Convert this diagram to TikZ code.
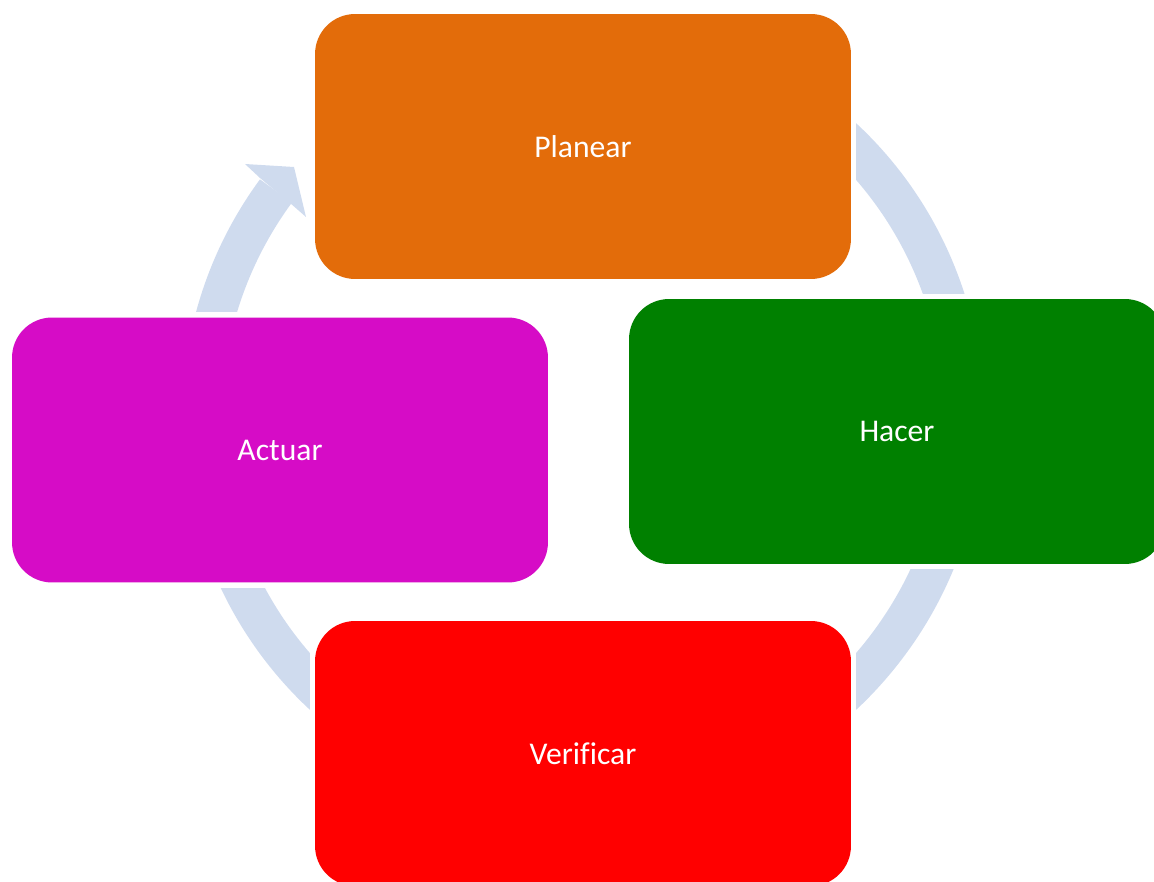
\documentclass[tikz,border=0pt]{standalone}
\usepackage{fontspec}
\setmainfont[Ligatures=NoCommon]{Carlito}
\usetikzlibrary{backgrounds}
\definecolor{ringblue}{RGB}{207,219,238}
\definecolor{planorange}{RGB}{227,108,10}
\definecolor{dogreen}{RGB}{0,128,0}
\definecolor{checkred}{RGB}{255,0,0}
\definecolor{actmagenta}{RGB}{214,12,198}

\begin{document}
\begin{tikzpicture}[
    x=0.02cm, y=0.02cm,
    box/.style={rounded corners=0.8cm, minimum width=10.72cm, minimum height=5.3cm,
                inner sep=0pt, text=white, font=\fontsize{18}{22}\selectfont},
    ring/.style={draw=ringblue, line width=0.79cm},
  ]
  \clip (0,0) rectangle (1154,-882);
  \node[box, fill=planorange] (plan) at (583,-146.5) {Planear};
  \node[box, fill=dogreen] (hacer) at (897,-431.5) {Hacer};
  \node[box, fill=checkred] (verif) at (583,-753.5) {Verificar};
  \node[box, fill=actmagenta] (actuar) at (280,-450) {Actuar};
  % cycle arrow behind the boxes
  \begin{scope}[on background layer]
    \coordinate (ctr) at (583,-416.5);
    \draw[ring] (ctr) ++(143.7:381) arc[start angle=143.7, end angle=460, radius=381];
    \fill[ringblue] (260,-178) -- (245,-164) -- (294,-167) -- (306,-217) -- (290,-203) -- cycle;
    \foreach \b in {plan, hacer, verif, actuar}
      \fill[white] (\b.south west) ++(-5,-5) rectangle ([shift={(5,5)}]\b.north east);
  \end{scope}
\end{tikzpicture}
\end{document}
